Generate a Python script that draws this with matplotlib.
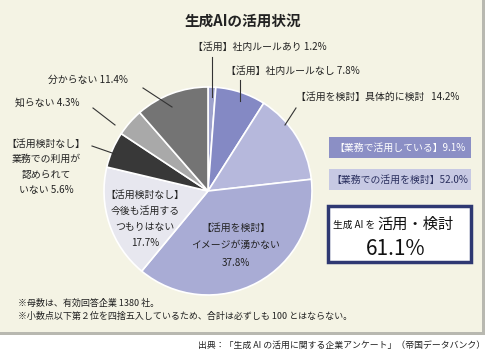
import matplotlib
matplotlib.use("Agg")
import matplotlib.pyplot as plt
from matplotlib.patches import Rectangle

plt.rcParams['font.family'] = ['Noto Sans CJK JP', 'DejaVu Sans']

title = "生成AIの活用状況"
labels = ["【活用】社内ルールあり", "【活用】社内ルールなし", "【活用を検討】具体的に検討",
          "【活用を検討】\nイメージが湧かない", "【活用検討なし】\n今後も活用する\nつもりはない",
          "【活用検討なし】\n業務での利用が\n認められて\nいない", "知らない", "分からない"]
values = [1.2, 7.8, 14.2, 37.8, 17.7, 5.6, 4.3, 11.4]
colors = ["#9ea2cc", "#8489c4", "#b6b8dc", "#a9acd5", "#e7e7ef", "#383838", "#a9a9a9", "#747474"]
summary_labels = ["【業務で活用している】", "【業務での活用を検討】"]
summary_values = [9.1, 52.0]
total_label = "活用・検討"
total_value = 61.1
notes = ["※母数は、有効回答企業 1380 社。",
         "※小数点以下第２位を四捨五入しているため、合計は必ずしも 100 とはならない。"]
source = "出典：「生成 AI の活用に関する企業アンケート」（帝国データバンク）"

W, H = 489, 356
fig = plt.figure(figsize=(W / 100, H / 100), dpi=100)
ax = fig.add_axes([0, 0, 1, 1])
ax.set_xlim(0, W)
ax.set_ylim(0, H)
ax.set_aspect('equal')
ax.axis('off')
fig.patch.set_facecolor('white')


def py(y):
    return H - y


# panel with shadow
ax.add_patch(Rectangle((0, py(335)), 485, 335, facecolor='#b8b8b0', edgecolor='none', zorder=0))
ax.add_patch(Rectangle((0, py(332)), 482, 332, facecolor='#f4f3e4', edgecolor='none', zorder=0.5))

ax.text(243, py(21), title, ha='center', va='center', fontsize=10.5, fontweight='bold', color='#222222')

cx, cy, r = 208, py(191), 104
wedges, _ = ax.pie(values, colors=colors, startangle=90, counterclock=False,
                   center=(cx, cy), radius=r,
                   wedgeprops=dict(edgecolor='white', linewidth=1.2), frame=False)
ax.set_xlim(0, W)
ax.set_ylim(0, H)

fs = 7.1
tc = '#222222'
# outside labels with leader lines
ax.text(193, py(47), f"{labels[0]} {values[0]}%", fontsize=fs, color=tc, ha='left', va='center')
ax.plot([212, 212], [py(57), py(97)], color='#333333', lw=0.8)
ax.text(226, py(71), f"{labels[1]} {values[1]}%", fontsize=fs, color=tc, ha='left', va='center')
ax.plot([240, 240], [py(80), py(101)], color='#333333', lw=0.8)
ax.text(296, py(97), f"{labels[2]}   {values[2]}%", fontsize=fs, color=tc, ha='left', va='center')
ax.plot([296, 285], [py(108), py(125)], color='#333333', lw=0.8)
ax.text(48, py(80), f"{labels[7]} {values[7]}%", fontsize=fs, color=tc, ha='left', va='center')
ax.plot([143, 172], [py(88), py(107)], color='#333333', lw=0.8)
ax.text(15, py(103), f"{labels[6]} {values[6]}%", fontsize=fs, color=tc, ha='left', va='center')
ax.plot([93, 115], [py(108), py(125)], color='#333333', lw=0.8)
ax.text(46, py(167), f"{labels[5]} {values[5]}%", fontsize=fs, color=tc, ha='center', va='center',
        linespacing=1.7)
ax.plot([92, 115], [py(146), py(154)], color='#333333', lw=0.8)
# inside labels
ax.text(145, py(219), f"{labels[4]}\n{values[4]}%", fontsize=fs, color=tc, ha='center', va='center',
        linespacing=1.75)
ax.text(236, py(245), f"{labels[3]}\n{values[3]}%", fontsize=fs, color=tc, ha='center', va='center',
        linespacing=1.95)

# summary boxes
ax.add_patch(Rectangle((329, py(158)), 142, 21, facecolor='#8b8fc5', edgecolor='none'))
ax.text(400, py(147.5), f"{summary_labels[0]}{summary_values[0]}%", fontsize=fs, color='white',
        ha='center', va='center')
ax.add_patch(Rectangle((329, py(190)), 142, 21, facecolor='#c7c9e3', edgecolor='none'))
ax.text(400, py(179.5), f"{summary_labels[1]}{summary_values[1]}%", fontsize=fs, color='#2a2f5e',
        ha='center', va='center')
ax.add_patch(Rectangle((328, py(262)), 143, 56, facecolor='white', edgecolor='#2e3872', linewidth=2.5))
ax.text(333, py(225), "生成 AI を", fontsize=7, color='#111111', ha='left', va='center')
ax.text(377, py(224), total_label, fontsize=11, color='#111111', ha='left', va='center')
ax.text(396, py(249), f"{total_value}%", fontsize=15, color='#111111', ha='center', va='center')

# notes
ax.text(18, py(303), notes[0], fontsize=6.5, color=tc, ha='left', va='center')
ax.text(18, py(316), notes[1], fontsize=6.5, color=tc, ha='left', va='center')
ax.text(485, py(346), source, fontsize=6.4, color=tc, ha='right', va='center')

fig.savefig("out.png", dpi=100, facecolor='white')
